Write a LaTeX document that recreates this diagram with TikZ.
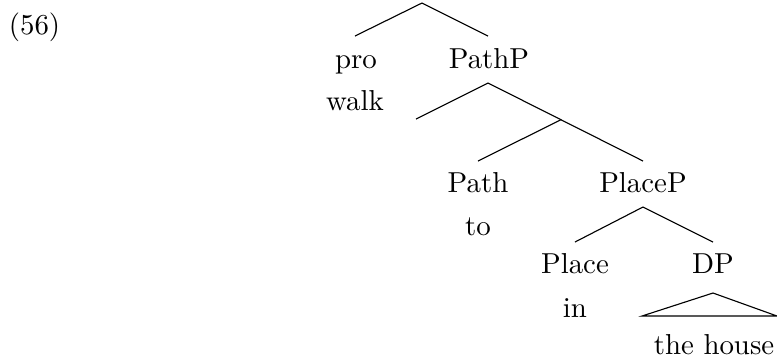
\documentclass[tikz,border=0pt]{standalone}
\begin{document}
\begin{tikzpicture}[x=0.357pt,y=-0.357pt,
  lbl/.style={anchor=base,inner sep=0pt,font=\fontsize{10.3}{12}\selectfont},
  edge/.style={line width=0.4pt}]
\useasboundingbox (0,0) rectangle (777,356);
% labels
\node[lbl] (ex) at (34.5,34) {(56)};
\node[lbl] (pro) at (356,68) {pro};
\node[lbl] (walk) at (355,110) {walk};
\node[lbl] (pathp) at (489,68) {PathP};
\node[lbl] (path) at (478,192) {Path};
\node[lbl] (to) at (478,235) {to};
\node[lbl] (placep) at (643,192) {PlaceP};
\node[lbl] (place) at (575,273) {Place};
\node[lbl] (in) at (575,317) {in};
\node[lbl] (dp) at (713,273) {DP};
\node[lbl] (house) at (714,354) {the house};
% branch points
\coordinate (top) at (422,3);
\coordinate (topL) at (355,36);
\coordinate (topR) at (488,36);
\coordinate (pp) at (488,83);
\coordinate (ppL) at (416,119);
\coordinate (mid) at (561,119.7);
\coordinate (ppR) at (643,161);
\coordinate (pathTop) at (478,161);
\coordinate (plp) at (643,207);
\coordinate (plpL) at (575,242);
\coordinate (plpR) at (713,242);
\coordinate (dpTop) at (713,293);
\coordinate (triL) at (642,316);
\coordinate (triR) at (777,316);
% edges
\draw[edge] (topL) -- (top) -- (topR);
\draw[edge] (ppL) -- (pp) -- (ppR);
\draw[edge] (mid) -- (pathTop);
\draw[edge] (plpL) -- (plp) -- (plpR);
\draw[edge] (triL) -- (dpTop) -- (triR) -- cycle;
\end{tikzpicture}
\end{document}
